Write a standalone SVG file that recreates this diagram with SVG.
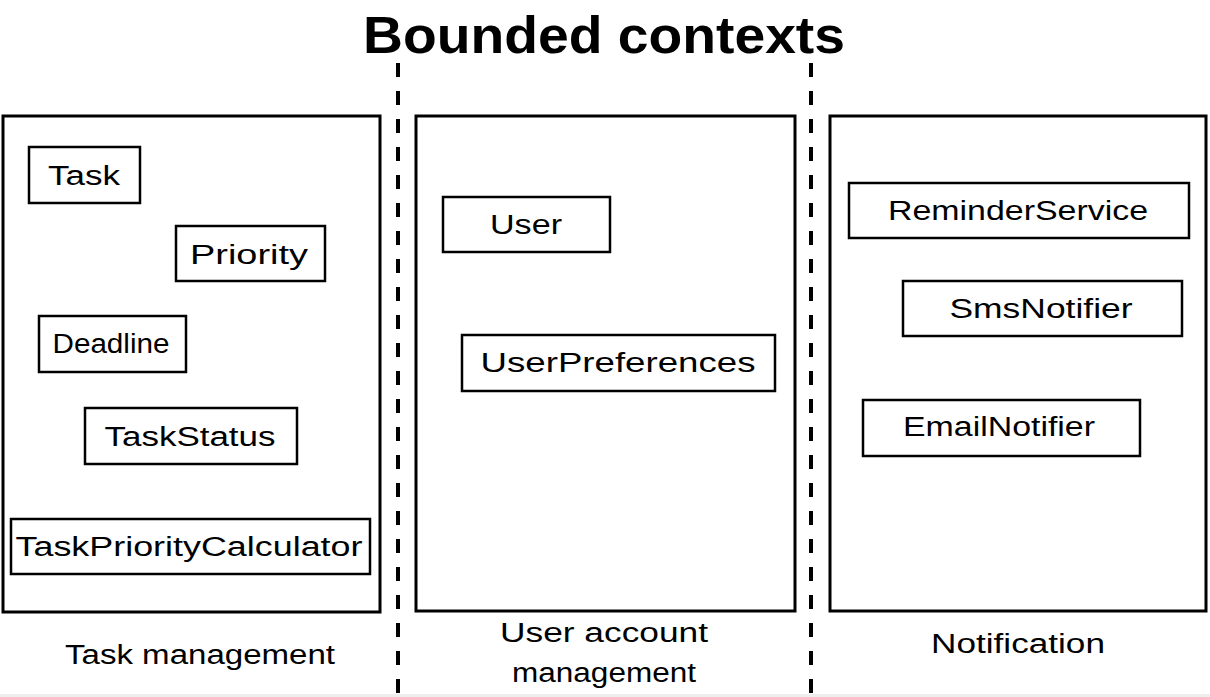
<svg xmlns="http://www.w3.org/2000/svg" width="1210" height="697" viewBox="0 0 1210 697">
<style>
.ctx{fill:#fff;stroke:#000;stroke-width:3}
.node{fill:#fff;stroke:#000;stroke-width:2.5}
.t{font-family:"Liberation Sans",Arial,sans-serif;font-size:27px;fill:#000;text-anchor:middle}
.lbl{font-family:"Liberation Sans",Arial,sans-serif;font-size:27px;fill:#000;text-anchor:middle}
.title{font-family:"Liberation Sans",Arial,sans-serif;font-size:52px;font-weight:bold;fill:#000;text-anchor:middle}
.sep{stroke:#000;stroke-width:4;stroke-dasharray:14 14;fill:none}
</style>
<rect x="0" y="0" width="1210" height="697" fill="#fff"/>
<rect x="0" y="694" width="1210" height="3" fill="#eeeeee"/>
<text class="title" x="604" y="53" textLength="482" lengthAdjust="spacingAndGlyphs">Bounded contexts</text>
<g id="connectors">
<line class="sep" x1="398" y1="63" x2="398" y2="697"/>
<line class="sep" x1="811" y1="63" x2="811" y2="697"/>
</g>
<g id="ctx-task">
<rect class="ctx" x="3" y="116" width="377" height="496"/>
<text class="lbl" x="200" y="664" textLength="270" lengthAdjust="spacingAndGlyphs">Task management</text>
</g>
<g id="ctx-user">
<rect class="ctx" x="416" y="116" width="379" height="495"/>
<text class="lbl" x="604" y="642" textLength="208" lengthAdjust="spacingAndGlyphs">User account</text>
<text class="lbl" x="604" y="682" textLength="184" lengthAdjust="spacingAndGlyphs">management</text>
</g>
<g id="ctx-notification">
<rect class="ctx" x="830" y="116" width="376" height="495"/>
<text class="lbl" x="1018" y="653" textLength="174" lengthAdjust="spacingAndGlyphs">Notification</text>
</g>
<g id="node-task">
<rect class="node" x="29" y="147" width="111" height="56"/>
<text class="t" x="84" y="185" textLength="72" lengthAdjust="spacingAndGlyphs">Task</text>
</g>
<g id="node-priority">
<rect class="node" x="176" y="226" width="149" height="55"/>
<text class="t" x="249" y="264" textLength="118" lengthAdjust="spacingAndGlyphs">Priority</text>
</g>
<g id="node-deadline">
<rect class="node" x="39" y="316" width="147" height="56"/>
<text class="t" x="111" y="353" textLength="117" lengthAdjust="spacingAndGlyphs">Deadline</text>
</g>
<g id="node-taskstatus">
<rect class="node" x="85" y="408" width="212" height="56"/>
<text class="t" x="190" y="446" textLength="171" lengthAdjust="spacingAndGlyphs">TaskStatus</text>
</g>
<g id="node-taskprioritycalculator">
<rect class="node" x="11" y="519" width="359" height="55"/>
<text class="t" x="189" y="556" textLength="347" lengthAdjust="spacingAndGlyphs">TaskPriorityCalculator</text>
</g>
<g id="node-user">
<rect class="node" x="443" y="197" width="167" height="55"/>
<text class="t" x="526" y="234" textLength="72" lengthAdjust="spacingAndGlyphs">User</text>
</g>
<g id="node-userpreferences">
<rect class="node" x="462" y="335" width="313" height="56"/>
<text class="t" x="618" y="372" textLength="275" lengthAdjust="spacingAndGlyphs">UserPreferences</text>
</g>
<g id="node-reminderservice">
<rect class="node" x="849" y="183" width="340" height="55"/>
<text class="t" x="1018" y="220" textLength="260" lengthAdjust="spacingAndGlyphs">ReminderService</text>
</g>
<g id="node-smsnotifier">
<rect class="node" x="903" y="281" width="279" height="55"/>
<text class="t" x="1041" y="318" textLength="183" lengthAdjust="spacingAndGlyphs">SmsNotifier</text>
</g>
<g id="node-emailnotifier">
<rect class="node" x="863" y="400" width="277" height="56"/>
<text class="t" x="999" y="436" textLength="192" lengthAdjust="spacingAndGlyphs">EmailNotifier</text>
</g>
</svg>
